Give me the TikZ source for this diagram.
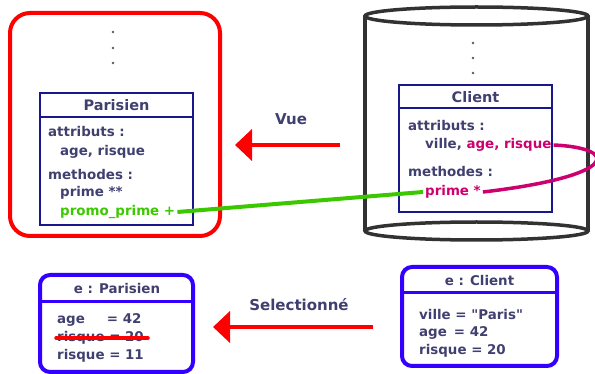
\documentclass[tikz,border=0pt]{standalone}
\usepackage{fontspec}
\setmainfont{DejaVu Sans}
\usetikzlibrary{arrows.meta}
\definecolor{navytext}{RGB}{64,64,112}
\definecolor{navyline}{RGB}{24,24,140}
\definecolor{objblue}{RGB}{51,0,255}
\definecolor{viewred}{RGB}{255,0,0}
\definecolor{promogreen}{RGB}{60,200,0}
\definecolor{linkpink}{RGB}{204,0,110}
\definecolor{drumgray}{RGB}{50,50,50}
\tikzset{
  classframe/.style={draw=navyline, line width=1.4pt},
  objframe/.style={draw=objblue, line width=4pt, rounded corners=10pt},
  member/.style={anchor=west, inner sep=2pt, text=navytext,
    font=\bfseries\fontsize{13.4}{15}\selectfont, text height=9.5pt, text depth=2.5pt},
  classtitle/.style={inner sep=0pt, text=navytext, font=\bfseries\fontsize{14.5}{16}\selectfont},
  arrowlabel/.style={inner sep=0pt, text=navytext, font=\bfseries\fontsize{15}{17}\selectfont},
  bigarrow/.style={draw=viewred, line width=4pt, -{Triangle[length=17pt,width=31pt]}},
  drum/.style={draw=drumgray, line width=3.5pt}
}
\begin{document}
\begin{tikzpicture}[x=1pt,y=-1pt]
\useasboundingbox (0,0) rectangle (595,374);

% the view (red frame) with class Parisien
\draw[viewred, line width=4pt, rounded corners=20pt] (10,13) rectangle (220,236);
\fill[drumgray!80] (113,32) circle [radius=1.3pt];
\fill[drumgray!80] (113,48) circle [radius=1.3pt];
\fill[drumgray!80] (113,63) circle [radius=1.3pt];
\draw[classframe] (40,93) rectangle (193,225);
\draw[classframe] (40,117) -- (193,117);
\node[classtitle] (parisien) at (116.5,105) {Parisien};
\node[member] (pattr) at (46,133) {attributs :};
\node[member] (pattrlist) at (58,152) {age, risque};
\node[member] (pmeth) at (46,176) {methodes :};
\node[member] (pprime) at (58,193) {prime **};
\node[member, text=promogreen] (ppromo) at (58,212) {promo\_prime +};

% the table (cylinder) with class Client
\draw[drum] (365,16) -- (365,231);
\draw[drum] (588,16) -- (588,231);
\draw[drum, fill=white] (476.5,16) ellipse [x radius=111.5pt, y radius=9pt];
\draw[drum] (476.5,231) ellipse [x radius=111.5pt, y radius=9pt];
\fill[drumgray!80] (473,43) circle [radius=1.3pt];
\fill[drumgray!80] (473,58) circle [radius=1.3pt];
\fill[drumgray!80] (473,73) circle [radius=1.3pt];
\draw[classframe] (399,85) rectangle (552,212);
\draw[classframe] (399,108) -- (552,108);
\node[classtitle] (client) at (475.5,97) {Client};
\node[member] (cattr) at (406,127) {attributs :};
\node[member] (cattrlist) at (423,145) {ville, \textcolor{linkpink}{age, risque}};
\node[member] (cmeth) at (406,173) {methodes :};
\node[member, text=linkpink] (cprime) at (423,192) {prime *};

% links
\draw[promogreen, line width=4pt] (ppromo.east) -- (cprime.west);
\draw[linkpink, line width=3.5pt] (cattrlist.east) .. controls (620,148) and (620,176) .. (cprime.east);

% Vue
\node[arrowlabel] (vue) at (291,119) {Vue};
\coordinate (vuestart) at (340,145);
\coordinate (vuetip) at (235,145);
\draw[bigarrow] (vuestart) -- (vuetip);

% objects
\draw[objframe] (40,275) rectangle (193,372);
\draw[objblue, line width=3pt] (40,302) -- (193,302);
\node[classtitle, font=\bfseries\fontsize{13.4}{15}\selectfont] (eparisien) at (117,289) {e : Parisien};
\node[member] (eage) at (55,320) {age\hspace{22pt}= 42};
\node[member] (eoldrisk) at (55,338) {risque = 20};
\node[member] (enewrisk) at (55,356) {risque = 11};
\draw[viewred, line width=3.5pt, line cap=round] ([xshift=1pt]eoldrisk.west) -- ([xshift=2pt]eoldrisk.east);

\draw[objframe] (402,267) rectangle (557,366);
\draw[objblue, line width=3pt] (402,293) -- (557,293);
\node[classtitle, font=\bfseries\fontsize{13.4}{15}\selectfont] (eclient) at (479.5,281) {e : Client};
\node[member] (eville) at (417,316) {ville = \textquotedbl Paris\textquotedbl};
\node[member] (ecage) at (417,333) {age\hspace{7pt}= 42};
\node[member] (ecrisk) at (417,351) {risque = 20};

% Selectionne
\node[arrowlabel] (select) at (299,305) {Selectionné};
\coordinate (selstart) at (373,327);
\coordinate (seltip) at (213,327);
\draw[bigarrow] (selstart) -- (seltip);
\end{tikzpicture}
\end{document}
